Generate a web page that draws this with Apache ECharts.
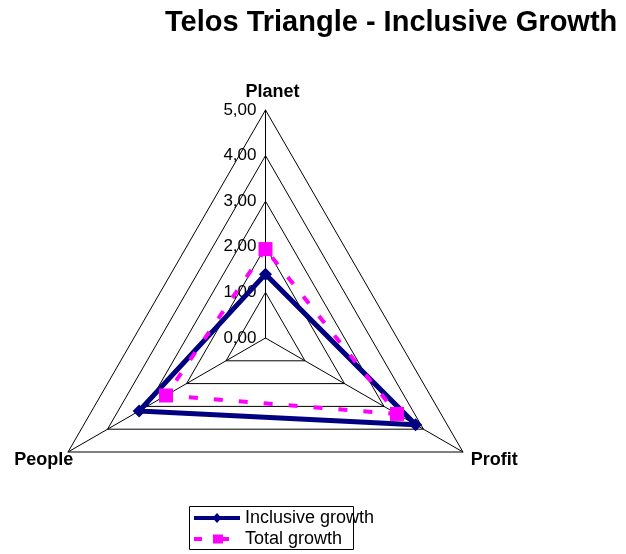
<!DOCTYPE html>
<html>
<head>
<meta charset="utf-8">
<script src="https://cdn.jsdelivr.net/npm/echarts@6/dist/echarts.min.js"></script>
<style>
    html, body { margin: 0; padding: 0; background: #fff; }
    #chart { width: 626px; height: 554px; }
</style>
</head>
<body>
<div id="chart"></div>
<script>
// indicators, in the order ECharts places them: top, bottom-left, bottom-right
const indicatorNames = ['Planet', 'People', 'Profit']
const inclusiveGrowth = [1.4, 3.2, 3.8]
const totalGrowth = [1.95, 2.52, 3.33]
const seriesNames = ['Inclusive growth', 'Total growth']
const axisMin = 0
const axisMax = 5

const font = 'Liberation Sans, Arial, sans-serif'
const chart = echarts.init(document.getElementById('chart'))

const option = {
    animation: false,
    title: {
        text: 'Telos Triangle - Inclusive Growth',
        left: 160,
        top: 3,
        textStyle: { fontFamily: font, fontSize: 29, fontWeight: 'bold', color: '#000' }
    },
    // Excel's legend frame is narrower than its text, so the frame is drawn apart
    graphic: [
        {
            type: 'rect',
            z: -1,
            shape: { x: 189.5, y: 506.5, width: 164, height: 43 },
            style: { fill: '#fff', stroke: '#000', lineWidth: 1 }
        }
    ],
    legend: {
        orient: 'vertical',
        left: 189,
        top: 506,
        padding: [3, 4, 3, 5],
        itemGap: 3,
        itemWidth: 46,
        itemHeight: 10,
        textStyle: { fontFamily: font, fontSize: 18, color: '#000' },
        data: [
            { name: seriesNames[0], icon: 'path://M0,3L46,3L46,7L0,7Z M23,0L27.5,5L23,10L18.5,5Z' },
            { name: seriesNames[1], icon: 'path://M0,3L8,3L8,7L0,7Z M19,0.5L29,0.5L29,9.5L19,9.5Z M29,3L35,3L35,7L29,7Z M46,0L46,10' }
        ]
    },
    radar: {
        center: [265.5, 338],
        radius: 228,
        startAngle: 90,
        shape: 'polygon',
        splitNumber: 5,
        nameGap: 9,
        indicator: indicatorNames.map((name, i) => ({
            name: name,
            min: axisMin,
            max: axisMax,
            axisLabel: { show: i === 0 }
        })),
        axisName: {
            fontFamily: font,
            fontSize: 18,
            fontWeight: 'bold',
            color: '#000',
            padding: [8, 0, 0, 0],
            formatter: (name) => {
                if (name === 'People') return '{l|' + name + '}'
                if (name === 'Planet') return '{t|' + name + '}'
                return name
            },
            rich: {
                l: { fontFamily: font, fontSize: 18, fontWeight: 'bold', color: '#000', padding: [0, -13, 0, 0] },
                t: { fontFamily: font, fontSize: 18, fontWeight: 'bold', color: '#000', padding: [0, 0, 0, 14] }
            }
        },
        axisLine: { lineStyle: { color: '#000', width: 1 } },
        splitLine: { lineStyle: { color: '#000', width: 1 } },
        splitArea: { show: false },
        axisTick: { show: false },
        axisLabel: {
            show: true,
            fontFamily: font,
            fontSize: 17,
            color: '#000',
            margin: 9,
            formatter: (v) => Number(v).toFixed(2).replace('.', ',')
        }
    },
    series: [
        {
            type: 'radar',
            data: [
                {
                    name: seriesNames[0],
                    value: inclusiveGrowth,
                    symbol: 'diamond',
                    symbolSize: 13,
                    itemStyle: { color: '#000080' },
                    lineStyle: { color: '#000080', width: 5 }
                },
                {
                    name: seriesNames[1],
                    value: totalGrowth,
                    symbol: 'rect',
                    symbolSize: 14,
                    itemStyle: { color: '#ff00ff' },
                    lineStyle: { color: '#ff00ff', width: 4, type: [9, 16] }
                }
            ]
        }
    ]
}

chart.setOption(option)
</script>
</body>
</html>
